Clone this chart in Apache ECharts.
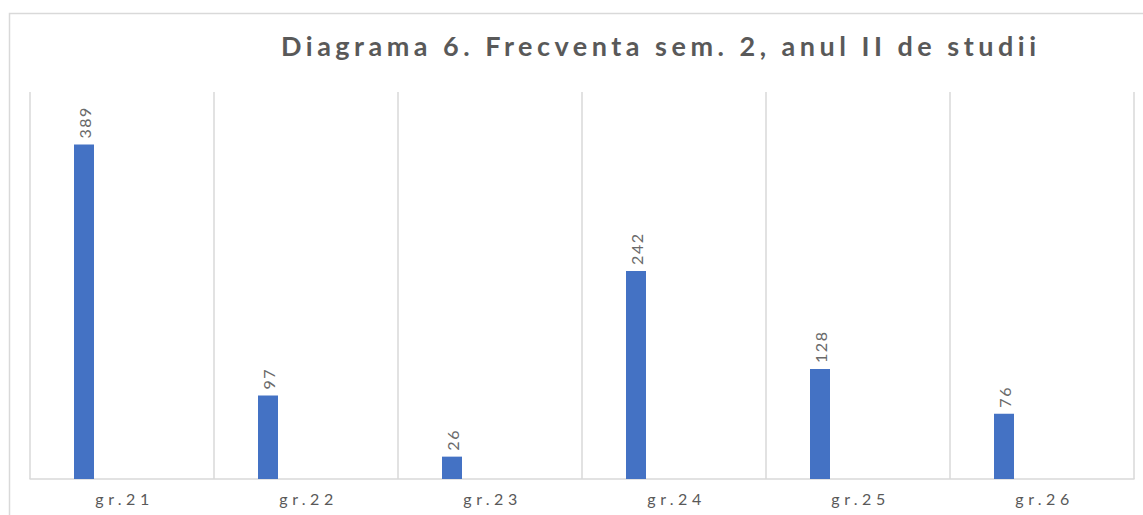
<!DOCTYPE html>
<html>
<head>
<meta charset="utf-8">
<script src="https://cdn.jsdelivr.net/npm/echarts@6/dist/echarts.min.js"></script>
<style>
  html, body { margin: 0; padding: 0; background: #fff; }
  #main { width: 1143px; height: 515px; }
</style>
</head>
<body>
<div id="main"></div>
<script>
// date
var grupe = ['gr.21', 'gr.22', 'gr.23', 'gr.24', 'gr.25', 'gr.26'];
var frecventa = [389, 97, 26, 242, 128, 76];
var seriaGoala = [null, null, null, null, null, null]; // a doua serie, fara valori

var chart = echarts.init(document.getElementById('main'), null, { renderer: 'svg' });

var option = {
  backgroundColor: '#fff',
  animation: false,
  title: {
    text: 'Diagrama 6. Frecventa sem. 2, anul II de studii',
    left: 276,
    top: 27,
    textStyle: {
      fontFamily: 'Lato',
      fontSize: 27,
      fontWeight: 'bold',
      color: '#595959'
    }
  },
  graphic: [{
    type: 'rect',
    left: 7,
    top: 11,
    shape: { width: 1300, height: 700 },
    style: { fill: 'none', stroke: '#d9d9d9', lineWidth: 1.5 },
    silent: true
  }],
  grid: { left: 30, right: 9, top: 92, bottom: 36 },
  xAxis: {
    type: 'category',
    data: grupe,
    axisLine: { lineStyle: { color: '#d9d9d9', width: 1.5 } },
    axisTick: { show: false },
    splitLine: { show: true, lineStyle: { color: '#d9d9d9', width: 1.5 } },
    axisLabel: {
      fontFamily: 'Lato',
      fontSize: 16,
      color: '#595959',
      margin: 11
    }
  },
  yAxis: {
    type: 'value',
    min: 0,
    max: 450,
    show: false,
    splitLine: { show: false }
  },
  series: [{
    name: 'frecventa',
    type: 'bar',
    data: frecventa,
    barWidth: 20,
    barGap: '280%',
    itemStyle: { color: '#4472c4' },
    label: {
      show: true,
      position: 'top',
      rotate: 90,
      align: 'left',
      verticalAlign: 'middle',
      distance: 9,
      offset: [-3, 0],
      fontFamily: 'Lato',
      fontSize: 16,
      color: '#6a6a6a'
    }
  }, {
    name: 'gol',
    type: 'bar',
    data: seriaGoala,
    barWidth: 20
  }]
};

chart.setOption(option);

// spatierea literelor, ca in original
function spatiere() {
  var texte = document.querySelectorAll('#main svg text');
  texte.forEach(function (t) {
    var s = t.textContent;
    if (s.indexOf('Diagrama') === 0) t.style.letterSpacing = '4.5px';
    else if (s.indexOf('gr.') === 0) {
      t.style.letterSpacing = '4.5px';
      t.setAttribute('dx', '2.5');
    }
    else t.style.letterSpacing = '1.5px';
  });
}
chart.on('finished', spatiere);
spatiere();
</script>
</body>
</html>
